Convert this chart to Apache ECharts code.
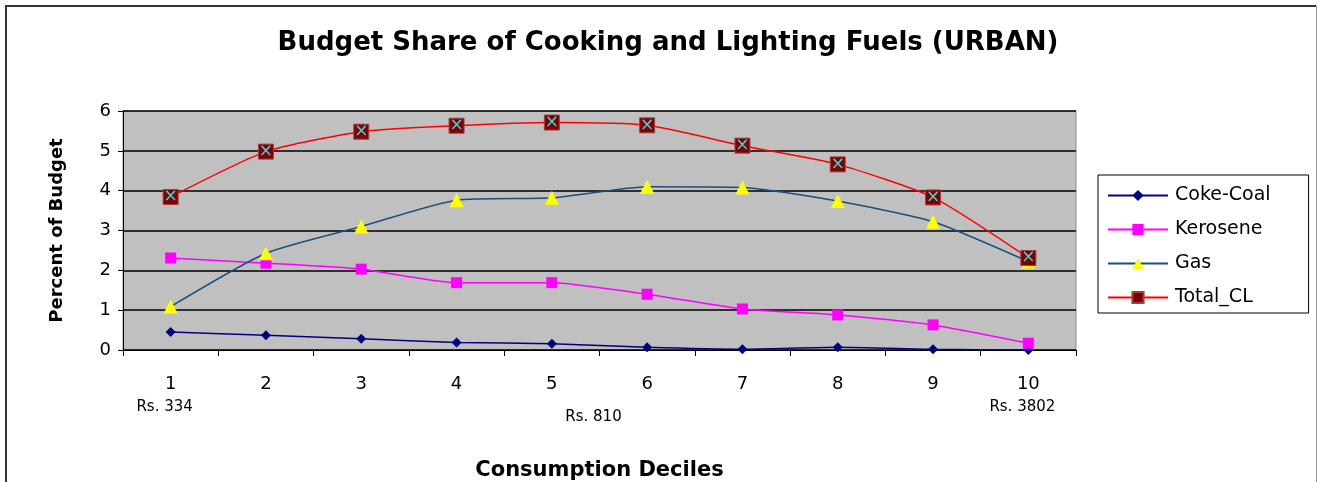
<!DOCTYPE html>
<html>
<head>
    <meta charset="utf-8">
    <title>Budget Share of Cooking and Lighting Fuels (URBAN)</title>
    <script src="https://cdn.jsdelivr.net/npm/echarts@6/dist/echarts.min.js"></script>
    <style>
        html, body { margin: 0; padding: 0; background: #fff; }
        #main { width: 1318px; height: 482px; }
    </style>
</head>
<body>
    <div id="main"></div>
    <script>
        // data
        const deciles = ['1', '2', '3', '4', '5', '6', '7', '8', '9', '10'];
        const cokeCoal = [0.45, 0.37, 0.28, 0.19, 0.16, 0.07, 0.02, 0.07, 0.02, 0.0];
        const kerosene = [2.31, 2.18, 2.03, 1.69, 1.69, 1.40, 1.03, 0.88, 0.63, 0.17];
        const gas = [1.09, 2.43, 3.10, 3.76, 3.82, 4.10, 4.08, 3.74, 3.22, 2.22];
        const totalCL = [3.84, 4.98, 5.48, 5.63, 5.71, 5.64, 5.13, 4.66, 3.83, 2.31];
        const yTicks = [0, 1, 2, 3, 4, 5, 6];
        // extra labels under the deciles: [category index position, text, offset down]
        const rsLabels = [
            { at: 0, text: 'Rs. 334', dy: 0 },
            { at: 4.5, text: 'Rs. 810', dy: 10 },
            { at: 9, text: 'Rs. 3802', dy: 0 }
        ];

        const chart = echarts.init(document.getElementById('main'));
        const font = 'DejaVu Sans, Liberation Sans, sans-serif';

        function lineSeries(name, data, color, symbol, size, markColor) {
            return {
                name: name,
                type: 'line',
                data: data,
                smooth: 0.2,
                symbol: symbol,
                symbolSize: size,
                showAllSymbol: true,
                lineStyle: { color: color, width: 1.5 },
                itemStyle: { color: markColor, borderColor: markColor, borderWidth: 0 },
                emphasis: { disabled: true }
            };
        }

        const total = lineSeries('Total_CL', totalCL, '#ff0000', 'rect', 15, '#800000');
        total.itemStyle = { color: '#800000', borderColor: '#a04040', borderWidth: 1 };
        total.label = {
            show: true, position: 'inside', formatter: '\u00d7',
            color: '#33dddd', fontSize: 17, fontFamily: font
        };

        const option = {
            animation: false,
            backgroundColor: '#ffffff',
            title: {
                text: 'Budget Share of Cooking and Lighting Fuels (URBAN)',
                left: 663, textAlign: 'center', top: 25,
                textStyle: { fontFamily: font, fontSize: 26, fontWeight: 'bold', color: '#000' }
            },
            legend: {
                orient: 'vertical',
                left: 1098, top: 175,
                padding: [11, 38, 6, 9],
                itemWidth: 60, itemHeight: 14, itemGap: 15,
                borderColor: '#000', borderWidth: 1,
                backgroundColor: '#fff',
                textStyle: { fontFamily: font, fontSize: 19, color: '#000', padding: [0, 0, 0, 2] },
                data: ['Coke-Coal', 'Kerosene', 'Gas', 'Total_CL']
            },
            grid: {
                left: 123, right: 242, top: 111, bottom: 130,
                show: true, backgroundColor: '#c0c0c0', borderColor: '#8c8c8c', borderWidth: 1
            },
            xAxis: {
                type: 'category',
                data: deciles,
                boundaryGap: true,
                name: 'Consumption Deciles',
                nameLocation: 'middle',
                nameGap: 110,
                nameTextStyle: { fontFamily: font, fontSize: 21, fontWeight: 'bold', color: '#000' },
                axisLine: { lineStyle: { color: '#000', width: 1 } },
                axisTick: { show: true, alignWithLabel: false, length: 6, lineStyle: { color: '#000' } },
                axisLabel: { fontFamily: font, fontSize: 18, color: '#000', margin: 25 },
                splitLine: { show: false }
            },
            yAxis: {
                type: 'value',
                min: yTicks[0], max: yTicks[yTicks.length - 1], interval: 1,
                name: 'Percent of Budget',
                nameLocation: 'middle',
                nameRotate: 90,
                nameGap: 57,
                nameTextStyle: { fontFamily: font, fontSize: 18, fontWeight: 'bold', color: '#000' },
                axisLine: { show: true, lineStyle: { color: '#000', width: 1 } },
                axisTick: { show: true, length: 5, lineStyle: { color: '#000' } },
                axisLabel: { fontFamily: font, fontSize: 18, color: '#000', margin: 12 },
                splitLine: { lineStyle: { color: '#000', width: 1.5 } }
            },
            series: [
                lineSeries('Coke-Coal', cokeCoal, '#000080', 'diamond', 10, '#000080'),
                lineSeries('Kerosene', kerosene, '#ff00ff', 'rect', 11, '#ff00ff'),
                lineSeries('Gas', gas, '#1c4f7c', 'triangle', 14, '#ffff00'),
                total
            ]
        };
        chart.setOption(option);

        // frame and the "Rs." notes, placed through the axis scale
        const graphics = [
            { type: 'polyline', shape: { points: [[6, 482], [6, 6], [1316, 6]] },
              style: { stroke: '#333', lineWidth: 2, fill: null }, silent: true },
            { type: 'line', shape: { x1: 1316.5, y1: 6, x2: 1316.5, y2: 482 },
              style: { stroke: '#999', lineWidth: 1 }, silent: true }
        ];
        const baseY = chart.convertToPixel({ yAxisIndex: 0 }, 0);
        rsLabels.forEach(function (r) {
            const i0 = Math.floor(r.at), frac = r.at - i0;
            let x = chart.convertToPixel({ xAxisIndex: 0 }, deciles[i0]);
            if (frac > 0) {
                const x1 = chart.convertToPixel({ xAxisIndex: 0 }, deciles[i0 + 1]);
                x = x + (x1 - x) * frac;
            }
            graphics.push({
                type: 'text',
                x: x - 6, y: baseY + 57 + r.dy,
                style: { text: r.text, fontFamily: font, fontSize: 15, fill: '#000',
                         textAlign: 'center', textVerticalAlign: 'middle' },
                silent: true
            });
        });
        chart.setOption({ graphic: graphics });
    </script>
</body>
</html>
